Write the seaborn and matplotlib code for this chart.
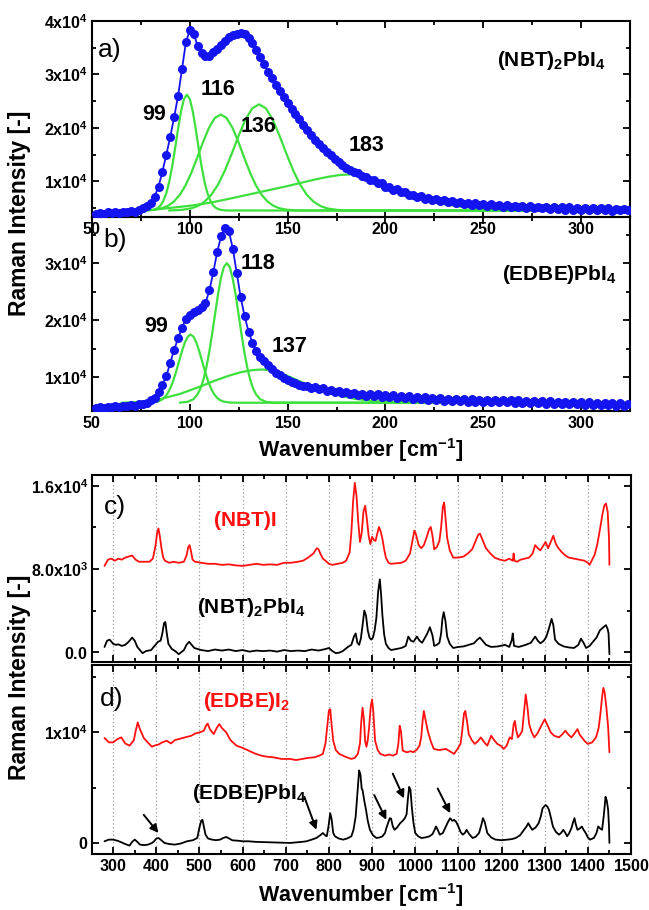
import numpy as np
import pandas as pd
import matplotlib
matplotlib.use("Agg")
import matplotlib.pyplot as plt
import seaborn as sns
from matplotlib.ticker import MultipleLocator

sns.set_style("ticks")
plt.rcParams["font.family"] = ["Liberation Sans", "DejaVu Sans"]
plt.rcParams["font.weight"] = "bold"
plt.rcParams["text.color"] = "black"
plt.rcParams["axes.labelcolor"] = "black"
plt.rcParams["xtick.color"] = "black"
plt.rcParams["ytick.color"] = "black"
plt.rcParams["mathtext.fontset"] = "custom"
plt.rcParams["mathtext.rm"] = "Liberation Sans:bold"
plt.rcParams["mathtext.bf"] = "Liberation Sans:bold"
plt.rcParams["mathtext.it"] = "Liberation Sans:bold"

# ---------------- data: panel a, (NBT)2PbI4 low-frequency Raman ----------------
a_x_start, a_x_step = 52, 2
a_counts = [3800, 4100, 3900, 4200, 4000, 4200, 4100, 4300, 4200, 4400, 4300, 4600, 4900, 5300, 6000,
            7100, 9000, 11800, 15000, 18300, 22000, 26000, 31000, 36000, 38300, 37600, 35300, 34000,
            33400, 33500, 34200, 34800, 35500, 36300, 37000, 37300, 37600, 37800, 37500, 36800, 35800,
            34600, 33300, 31900, 30500, 29300, 28000, 26800, 25700, 24600, 23600, 22600, 21600, 20600,
            19600, 18700, 17800, 17000, 16200, 15500, 14900, 14200, 13600, 13000, 12500, 12100, 11700,
            11500, 10900, 10800, 10200, 10200, 9600, 9600, 9000, 9000, 8400, 8500, 7900, 8000, 7400,
            7500, 7000, 7200, 6700, 6900, 6500, 6700, 6300, 6500, 6100, 6300, 5900, 6100, 5800, 6000,
            5600, 5900, 5500, 5800, 5400, 5700, 5300, 5600, 5200, 5500, 5100, 5400, 5100, 5300, 5000,
            5300, 4900, 5200, 4900, 5200, 4800, 5100, 4800, 5100, 4700, 5100, 4700, 5000, 4700, 5000,
            4600, 4900, 4600, 4900, 4600, 4900, 4500, 4800, 4600, 4800, 4600]
a_fit99_x = [78.5, 81.5, 83.5, 85, 86.5, 88, 89.5, 91, 92.5, 94, 95.5, 97, 98.5, 100, 101.5, 103, 104.5, 106,
             107.5, 109, 110.5, 112, 113.5, 115.5, 118.5, 325]
a_fit99_y = [4520, 4650, 4960, 5450, 6340, 7780, 9910, 12770, 16200, 19840, 23100, 25380, 26200, 25380, 23100,
             19840, 16200, 12770, 9910, 7780, 6340, 5450, 4960, 4650, 4520, 4500]
a_fit116_x = [75.8, 81.8, 85.8, 88.8, 91.8, 94.8, 97.8, 100.8, 103.8, 106.8, 109.8, 112.8, 115.8, 118.8, 121.8,
              124.8, 127.8, 130.8, 133.8, 136.8, 139.8, 142.8, 145.8, 149.8, 155.8, 325]
a_fit116_y = [4520, 4650, 4940, 5390, 6170, 7410, 9220, 11600, 14430, 17380, 20010, 21840, 22500, 21840, 20010,
              17380, 14430, 11600, 9220, 7410, 6170, 5390, 4940, 4650, 4520, 4500]
a_fit136_x = [89.4, 95.4, 100.4, 103.9, 107.4, 110.9, 114.4, 117.9, 121.4, 124.9, 128.4, 131.9, 135.4, 138.9,
              142.4, 145.9, 149.4, 152.9, 156.4, 159.9, 163.4, 166.9, 170.4, 175.4, 181.4, 325]
a_fit136_y = [4520, 4620, 4890, 5330, 6120, 7420, 9350, 11970, 15130, 18480, 21510, 23640, 24400, 23640, 21510,
              18480, 15130, 11970, 9350, 7420, 6120, 5330, 4890, 4620, 4520, 4500]
a_fit183_x = [82, 90, 100, 110, 120, 130, 140, 150, 158, 165, 171, 177, 183, 189, 195, 201, 207, 214, 222, 230,
              240, 250, 262, 280, 325]
a_fit183_y = [4700, 5000, 5400, 5950, 6700, 7500, 8300, 9100, 9800, 10400, 10850, 11180, 11300, 11000, 10100,
              9000, 8000, 7100, 6300, 5700, 5150, 4800, 4620, 4530, 4500]

# ---------------- data: panel b, (EDBE)PbI4 low-frequency Raman ----------------
b_x_start, b_x_step = 52, 2
b_counts = [4500, 4800, 4600, 4800, 4700, 4900, 4800, 5000, 4900, 5100, 5000, 5200, 5300, 5500, 5900,
            6400, 7300, 8700, 10200, 12500, 14800, 16800, 18700, 20200, 20900, 21400, 21800, 22300,
            23000, 25200, 28400, 32000, 34700, 36200, 35600, 32500, 28200, 24000, 20700, 18000, 16000,
            14600, 13500, 12800, 12100, 11400, 10800, 10300, 9800, 9500, 9200, 9000, 8700, 8500,
            8500, 8100, 8300, 7900, 8000, 7600, 7800, 7400, 7600, 7200,
            7400, 7000, 7200, 6800, 7100, 6700, 7000, 6600, 6950, 6550,
            6900, 6500, 6850, 6400, 6750, 6300, 6650, 6200, 6550, 6100,
            6450, 6000, 6350, 5900, 6300, 5850, 6200, 5800, 6150, 5750,
            6100, 5700, 6100, 5650, 6050, 5650, 6000, 5600, 6000, 5600,
            5950, 5550, 5900, 5500, 5900, 5450, 5850, 5400, 5800, 5400,
            5750, 5350, 5750, 5300, 5700, 5300, 5650, 5250, 5600, 5200,
            5600, 5150, 5550, 5100, 5500, 5100, 5450, 5050, 5400, 5000,
            5400, 5000, 5350]
b_fit99_x = [76.4, 80.4, 83.4, 85.4, 86.9, 88.4, 89.9, 91.4, 92.9, 94.4, 95.9, 97.4, 98.9, 100.4, 101.9, 103.4,
             104.9, 106.4, 107.9, 109.4, 110.9, 112.4, 113.9, 115.4, 117.4, 120.4, 124.4, 325]
b_fit99_y = [5500, 5540, 5690, 5970, 6370, 7010, 7960, 9240, 10840, 12640, 14450, 16020, 17090, 17470, 17090,
             16020, 14450, 12640, 10840, 9240, 7960, 7010, 6370, 5970, 5690, 5540, 5500, 5500]
b_fit118_x = [94.9, 98.9, 101.9, 103.9, 105.4, 106.9, 108.4, 109.9, 111.4, 112.9, 114.4, 115.9, 117.4, 118.9,
              120.4, 121.9, 123.4, 124.9, 126.4, 127.9, 129.4, 130.9, 132.4, 133.9, 135.9, 138.9, 142.9, 325]
b_fit118_y = [5520, 5660, 6140, 6940, 7970, 9490, 11610, 14330, 17560, 21070, 24480, 27370, 29320, 30000, 29320,
              27370, 24480, 21070, 17560, 14330, 11610, 9490, 7970, 6940, 6140, 5660, 5520, 5500]
b_fit137_x = [65, 75, 85, 95, 105, 113, 120, 126, 132, 137, 142, 148, 154, 160, 167, 175, 184, 195, 210, 230, 325]
b_fit137_y = [5500, 5650, 6150, 7050, 8300, 9400, 10250, 10850, 11230, 11340, 11150, 10500, 9600, 8700, 7750,
              6900, 6200, 5750, 5550, 5500, 5500]

# ---------------- data: panel c ----------------
c_nbti_x = [280, 288, 296, 304, 312, 320, 328, 336, 344, 352, 360, 372, 384, 392, 398, 402, 405, 408, 412, 416, 420,
            430, 440, 452, 464, 470, 474, 477, 480, 484, 490, 504, 520, 536, 552, 568, 584, 600, 616, 632, 648,
            664, 680, 696, 712, 728, 740, 752, 764, 772, 776, 780, 786, 792, 800, 808, 820, 832, 840, 848, 852,
            856, 860, 864, 868, 872, 876, 880, 884, 888, 892, 896, 900, 904, 908, 912, 916, 920, 924, 928, 932,
            938, 944, 956, 968, 978, 988, 994, 998, 1002, 1008, 1014, 1020, 1026, 1032, 1036, 1040, 1044, 1050,
            1056, 1060, 1064, 1067, 1070, 1074, 1080, 1088, 1100, 1112, 1122, 1132, 1140, 1146, 1150, 1156,
            1164, 1174, 1184, 1196, 1208, 1218, 1226, 1228, 1230, 1236, 1244, 1254, 1264, 1272, 1278, 1284,
            1290, 1296, 1302, 1308, 1314, 1320, 1326, 1332, 1340, 1348, 1356, 1368, 1380, 1392, 1400, 1404,
            1410, 1416, 1422, 1428, 1434, 1438, 1442, 1446, 1449, 1450]
c_nbti_y = [8300, 8900, 9000, 8800, 9000, 8900, 9100, 9200, 9300, 8900, 8700, 8700, 8700, 9000, 10200, 11500, 11900,
            11200, 10000, 9100, 8800, 8600, 8700, 8600, 8700, 9300, 10100, 10300, 9800, 8900, 8700, 8600, 8500,
            8500, 8400, 8450, 8350, 8300, 8400, 8500, 8400, 8450, 8400, 8600, 8600, 8700, 8800, 9100, 9500,
            10000, 9900, 9500, 9000, 8800, 8500, 8400, 8500, 8600, 8800, 9600, 11500, 14500, 16300, 15000,
            12500, 10600, 11500, 13500, 14100, 12800, 11200, 10400, 11100, 10800, 10700, 11400, 12050, 11600,
            10900, 9900, 9100, 8600, 8500, 8550, 8600, 8800, 9500, 10800, 11700, 11300, 10300, 10000, 10300,
            11000, 11800, 12050, 11200, 9900, 10100, 10700, 12000, 14000, 14400, 13000, 11000, 9800, 9100,
            9100, 9200, 9500, 9900, 10700, 11300, 11400, 10800, 10000, 9500, 9100, 8900, 8800, 9000, 8800,
            9500, 8800, 8700, 8900, 9000, 9100, 9500, 10300, 10000, 9800, 10200, 10600, 10000, 10600, 11200,
            10400, 10000, 9600, 9300, 9100, 9000, 8900, 8800, 8600, 8400, 8900, 9400, 10400, 11800, 13300,
            14100, 14300, 13500, 11000, 8400]
c_pbi_x = [280, 286, 292, 300, 306, 312, 320, 328, 336, 344, 350, 356, 362, 368, 376, 388, 396, 404, 410, 414, 418,
           421, 424, 428, 436, 444, 452, 458, 464, 470, 476, 480, 488, 496, 504, 520, 536, 552, 568, 584, 600,
           616, 632, 648, 664, 680, 696, 712, 728, 744, 760, 776, 792, 800, 808, 816, 824, 832, 844, 852, 858,
           862, 866, 870, 874, 878, 882, 886, 890, 894, 898, 902, 906, 910, 914, 918, 921, 924, 928, 932, 938,
           944, 956, 968, 978, 984, 990, 996, 1004, 1010, 1016, 1024, 1028, 1034, 1040, 1044, 1050, 1056, 1060,
           1063, 1066, 1070, 1074, 1080, 1088, 1100, 1112, 1124, 1136, 1144, 1150, 1156, 1164, 1176, 1192,
           1208, 1218, 1224, 1226, 1229, 1240, 1256, 1268, 1278, 1284, 1290, 1298, 1304, 1310, 1316, 1320,
           1324, 1332, 1344, 1356, 1368, 1378, 1384, 1390, 1396, 1404, 1412, 1420, 1428, 1436, 1442, 1446,
           1448, 1450]
c_pbi_y = [500, 1100, 1200, 800, 700, 750, 600, 700, 1000, 1400, 1100, 500, 200, -100, 100, 200, 600, 1000, 1100,
           1800, 2800, 2900, 1900, 800, 300, 100, -200, 0, 200, 700, 1000, 800, 400, 300, 200, 100, 250, 150,
           250, 100, 200, 50, 150, 100, 150, 50, 200, 100, 150, 100, 250, 150, 300, 400, 100, -100, -50, 100,
           500, 700, 1500, 1800, 900, 700, 1300, 2600, 4000, 3500, 2100, 1400, 1200, 1400, 2100, 3300, 5800,
           7000, 5500, 3500, 1700, 800, 400, 200, 300, 400, 600, 1500, 1100, 1000, 1500, 1100, 900, 1500, 1800,
           2400, 1600, 600, 700, 900, 1800, 3200, 3850, 3000, 1500, 800, 400, 500, 550, 700, 850, 1200, 1400,
           1100, 700, 500, 550, 700, 500, 1200, 1800, 600, 500, 700, 900, 1500, 1100, 850, 1100, 1500, 2300,
           3200, 2600, 1200, 800, 550, 450, 400, 700, 1300, 900, 400, 600, 1000, 1400, 2100, 2400, 2600, 2200,
           1800, -200]

# ---------------- data: panel d ----------------
d_edbei_x = [280, 290, 300, 310, 319, 328, 338, 348, 352, 357, 362, 371, 380, 390, 395, 405, 414, 424, 434, 443, 452,
             462, 471, 481, 490, 500, 510, 515, 519, 524, 533, 540, 546, 552, 562, 572, 586, 600, 614, 628, 643,
             657, 671, 690, 710, 724, 738, 752, 767, 778, 786, 792, 796, 800, 803, 806, 810, 816, 824, 838, 852,
             860, 867, 872, 875, 878, 881, 884, 887, 890, 893, 897, 900, 903, 907, 913, 919, 930, 940, 948, 957,
             961, 964, 967, 971, 980, 990, 995, 1003, 1010, 1014, 1017, 1020, 1023, 1029, 1036, 1043, 1055, 1071,
             1080, 1090, 1098, 1105, 1109, 1113, 1116, 1120, 1124, 1131, 1138, 1145, 1152, 1160, 1167, 1172,
             1176, 1183, 1190, 1198, 1205, 1212, 1219, 1224, 1228, 1231, 1234, 1238, 1243, 1248, 1252, 1256,
             1260, 1264, 1270, 1276, 1283, 1290, 1296, 1300, 1306, 1314, 1322, 1333, 1340, 1348, 1355, 1362,
             1369, 1376, 1381, 1386, 1393, 1400, 1410, 1419, 1425, 1429, 1433, 1436, 1439, 1443, 1447, 1450]
d_edbei_y = [9500, 9100, 9100, 9400, 9550, 9000, 8800, 9300, 10100, 10900, 10300, 9500, 9100, 8700, 8800, 8900,
             9100, 9250, 9000, 9300, 9400, 9500, 9600, 9700, 9900, 10000, 10150, 10600, 10800, 10300, 9850,
             10400, 10750, 10400, 10000, 9300, 8800, 8600, 8350, 8100, 7900, 7800, 7750, 7600, 7600, 7500, 7600,
             7700, 7750, 7900, 8060, 9000, 10500, 12000, 12100, 10800, 9250, 8400, 8060, 7800, 7600, 7700, 8060,
             9000, 11000, 12240, 11200, 9200, 8700, 9300, 10400, 12400, 12980, 11800, 9250, 8400, 8060, 7900,
             8000, 7900, 8060, 9000, 10600, 10100, 8360, 8200, 8300, 8210, 8400, 8800, 9600, 11000, 11940,
             11300, 10150, 9200, 8510, 8400, 8510, 8300, 8060, 8500, 8960, 10200, 11700, 11940, 11000, 9850,
             9300, 8960, 9200, 9550, 9100, 8800, 9300, 9700, 9300, 8960, 8800, 8510, 8800, 9550, 9400, 10700,
             11040, 10200, 9550, 9800, 10150, 11800, 13430, 12300, 10750, 10000, 9550, 9900, 10450, 10900,
             11190, 10700, 10000, 9700, 9550, 9800, 10150, 9800, 9550, 9900, 10300, 9800, 9550, 9200, 8960,
             9100, 9550, 10400, 11640, 13200, 14030, 13600, 12240, 10500, 8210]
d_pbi_x = [280, 290, 300, 310, 319, 328, 338, 344, 350, 356, 362, 372, 381, 390, 395, 400, 405, 410, 419, 430, 443,
           457, 471, 485, 495, 500, 504, 507, 510, 514, 520, 529, 538, 548, 555, 562, 569, 576, 590, 600, 614,
           630, 646, 662, 680, 695, 710, 725, 738, 748, 760, 771, 780, 786, 791, 795, 799, 803, 806, 810, 814,
           823, 833, 842, 852, 857, 862, 866, 870, 873, 876, 878, 882, 886, 890, 895, 902, 910, 918, 924, 930,
           933, 937, 941, 944, 948, 952, 958, 965, 971, 976, 980, 983, 986, 989, 992, 996, 1000, 1007, 1014,
           1024, 1033, 1040, 1045, 1048, 1052, 1057, 1064, 1071, 1076, 1081, 1086, 1090, 1095, 1100, 1105,
           1110, 1115, 1119, 1125, 1133, 1140, 1148, 1153, 1157, 1161, 1167, 1176, 1186, 1200, 1214, 1224,
           1233, 1243, 1252, 1258, 1262, 1266, 1271, 1279, 1286, 1291, 1295, 1302, 1306, 1310, 1315, 1319,
           1326, 1333, 1338, 1343, 1348, 1352, 1357, 1362, 1366, 1369, 1372, 1376, 1381, 1386, 1390, 1395,
           1400, 1405, 1414, 1420, 1424, 1429, 1433, 1437, 1441, 1444, 1447, 1449, 1450]
d_pbi_y = [150, 300, 300, 200, 60, -100, -240, 100, 300, 100, -150, -200, -150, 0, 150, 400, 450, 300, 0, -100,
           -150, -50, 150, 250, 450, 1400, 2000, 2090, 1500, 750, 400, 300, 250, 300, 450, 540, 400, 240, 200,
           150, 150, 100, 80, 60, 40, 20, 0, 50, 100, 150, 300, 450, 700, 900, 700, 600, 1500, 2690, 2200, 900,
           600, 400, 300, 400, 600, 1200, 2390, 4500, 6570, 6200, 4900, 4780, 3800, 2990, 2000, 1190, 700, 450,
           500, 600, 900, 1340, 1800, 2240, 2200, 1500, 1190, 1400, 1790, 2000, 2240, 2600, 4000, 5070, 4800,
           3280, 1800, 900, 600, 450, 500, 600, 800, 1200, 1490, 1200, 750, 900, 1490, 1900, 2240, 2000, 2090,
           1900, 1490, 1000, 750, 900, 1190, 800, 450, 550, 900, 1600, 2240, 1900, 900, 500, 300, 250, 300,
           350, 450, 700, 1190, 1500, 1790, 1500, 1190, 1400, 1790, 2400, 3130, 3430, 3300, 2990, 2200, 1490,
           1000, 750, 900, 1190, 900, 600, 900, 1340, 1900, 2240, 1700, 1190, 1300, 1490, 1200, 900, 500, 300,
           450, 900, 1490, 1300, 1190, 2500, 4180, 3800, 2990, 1500, 0]

# arrows in panel d: (tail x, tail y, head x, head y)
d_arrows = [(371, 2540, 405, 900), (743, 4180, 771, 1190), (905, 4330, 933, 2090),
            (948, 6270, 974, 4030), (1052, 4930, 1081, 2690)]

# tick labels
a_yticks = [10000, 20000, 30000, 40000]
a_ylabels = [r"$\mathbf{1x10^{4}}$", r"$\mathbf{2x10^{4}}$", r"$\mathbf{3x10^{4}}$", r"$\mathbf{4x10^{4}}$"]
b_yticks = [10000, 20000, 30000]
b_ylabels = [r"$\mathbf{1x10^{4}}$", r"$\mathbf{2x10^{4}}$", r"$\mathbf{3x10^{4}}$"]
c_yticks = [0, 8000, 16000]
c_ylabels = [r"$\mathbf{0.0}$", r"$\mathbf{8.0x10^{3}}$", r"$\mathbf{1.6x10^{4}}$"]
d_yticks = [0, 10000]
d_ylabels = [r"$\mathbf{0}$", r"$\mathbf{1x10^{4}}$"]
low_xticks = [50, 100, 150, 200, 250, 300]
high_xticks = [300, 400, 500, 600, 700, 800, 900, 1000, 1100, 1200, 1300, 1400, 1500]

BLUE = "#1414f0"
GREEN = "#3de03d"
RED = "#ff1010"
TICK_FS = 11.5
LABEL_FS = 15.5
NAME_FS = 15
PEAK_FS = 15.5
LETTER_FS = 19

# ---------------- figure ----------------
fig = plt.figure(figsize=(6.49, 9.10), dpi=100)


def pos(l, t, r, b):
    return [l / 649, 1 - b / 910, (r - l) / 649, (b - t) / 910]


ax_b = fig.add_axes(pos(92, 217, 630, 411))
ax_a = fig.add_axes(pos(92, 21, 630, 217))
ax_c = fig.add_axes(pos(92, 475, 631, 662))
ax_d = fig.add_axes(pos(92, 665, 631, 854))


def style(ax):
    for s in ax.spines.values():
        s.set_linewidth(1.5)
        s.set_color("black")
        s.set_visible(True)
    ax.tick_params(which="both", direction="in", top=True, right=True, width=1.3,
                   colors="black", labelsize=TICK_FS, pad=3)
    ax.tick_params(which="major", length=5)
    ax.tick_params(which="minor", length=3)
    ax.set_xlabel("")
    ax.set_ylabel("")


def spectrum_low(ax, start, step, counts, fits):
    df = pd.DataFrame({"w": [start + step * i for i in range(len(counts))], "I": counts})
    for fx, fy in fits:
        sns.lineplot(data=pd.DataFrame({"w": fx, "I": fy}), x="w", y="I", ax=ax, color=GREEN,
                     linewidth=1.6, estimator=None, zorder=2)
    sns.lineplot(data=df, x="w", y="I", ax=ax, color=BLUE, linewidth=1.3, marker="o",
                 markersize=6.5, markeredgewidth=0, estimator=None, zorder=3)
    ax.set_xlim(50, 325)
    ax.set_xticks(low_xticks)
    ax.set_xticklabels([r"$\mathbf{%d}$" % v for v in low_xticks])
    ax.xaxis.set_minor_locator(MultipleLocator(25))
    ax.yaxis.set_minor_locator(MultipleLocator(5000))
    style(ax)


spectrum_low(ax_a, a_x_start, a_x_step, a_counts,
             [(a_fit99_x, a_fit99_y), (a_fit116_x, a_fit116_y), (a_fit136_x, a_fit136_y), (a_fit183_x, a_fit183_y)])
ax_a.set_ylim(3300, 40000)
ax_a.set_yticks(a_yticks)
ax_a.set_yticklabels(a_ylabels)

spectrum_low(ax_b, b_x_start, b_x_step, b_counts,
             [(b_fit99_x, b_fit99_y), (b_fit118_x, b_fit118_y), (b_fit137_x, b_fit137_y)])
ax_b.set_ylim(4050, 38100)
ax_b.set_yticks(b_yticks)
ax_b.set_yticklabels(b_ylabels)

ax_a.patch.set_alpha(0)
ax_a.set_zorder(3)

# panel a annotations
ax_a.text(53, 34500, "a)", fontsize=LETTER_FS, fontweight="normal", ha="left", va="center")
ax_a.text(284.5, 32600, r"(NBT)$_{\mathbf{2}}$PbI$_{\mathbf{4}}$", fontsize=NAME_FS, ha="center", va="center")
for lbl, x, y in [("99", 82, 22400), ("116", 114.5, 27200), ("136", 135, 20200), ("183", 190.5, 16700)]:
    ax_a.text(x, y, lbl, fontsize=PEAK_FS, ha="center", va="center")

ax_b.text(56, 34100, "b)", fontsize=LETTER_FS, fontweight="normal", ha="left", va="center")
ax_b.text(289, 28000, r"(EDBE)PbI$_{\mathbf{4}}$", fontsize=NAME_FS, ha="center", va="center")
for lbl, x, y in [("99", 83, 18900), ("118", 135, 30000), ("137", 151, 15400)]:
    ax_b.text(x, y, lbl, fontsize=PEAK_FS, ha="center", va="center")


def spectrum_high(ax, series):
    for x, y, col in series:
        sns.lineplot(data=pd.DataFrame({"w": x, "I": y}), x="w", y="I", ax=ax, color=col,
                     linewidth=1.3, estimator=None, zorder=3)
    ax.set_xlim(251, 1500)
    ax.set_xticks(high_xticks)
    ax.set_xticklabels([r"$\mathbf{%d}$" % v for v in high_xticks])
    ax.xaxis.set_minor_locator(MultipleLocator(50))
    ax.xaxis.grid(True, which="major", linestyle=(0, (1, 2)), color="#9a9a9a", linewidth=0.9, zorder=0)
    ax.yaxis.grid(False)
    ax.set_axisbelow(True)
    style(ax)


spectrum_high(ax_c, [(c_nbti_x, c_nbti_y, RED), (c_pbi_x, c_pbi_y, "black")])
ax_c.set_ylim(-950, 17050)
ax_c.set_yticks(c_yticks)
ax_c.set_yticklabels(c_ylabels)
ax_c.yaxis.set_minor_locator(MultipleLocator(4000))
ax_c.tick_params(labelbottom=False)
ax_c.text(279, 13950, "c)", fontsize=LETTER_FS, fontweight="normal", ha="left", va="center")
ax_c.text(606, 12690, "(NBT)I", color=RED, fontsize=NAME_FS, ha="center", va="center")
ax_c.text(620, 4320, r"(NBT)$_{\mathbf{2}}$PbI$_{\mathbf{4}}$", fontsize=NAME_FS, ha="center", va="center")

spectrum_high(ax_d, [(d_edbei_x, d_edbei_y, RED), (d_pbi_x, d_pbi_y, "black")])
ax_d.set_ylim(-1000, 16100)
ax_d.set_yticks(d_yticks)
ax_d.set_yticklabels(d_ylabels)
ax_d.yaxis.set_minor_locator(MultipleLocator(5000))
ax_d.text(270, 13000, "d)", fontsize=LETTER_FS, fontweight="normal", ha="left", va="center")
ax_d.text(609, 12800, r"(EDBE)I$_{\mathbf{2}}$", color=RED, fontsize=NAME_FS, ha="center", va="center")
ax_d.text(616, 4480, r"(EDBE)PbI$_{\mathbf{4}}$", fontsize=NAME_FS, ha="center", va="center")
for tx, ty, hx, hy in d_arrows:
    ax_d.annotate("", xy=(hx, hy), xytext=(tx, ty),
                  arrowprops=dict(arrowstyle="-|>", color="black", lw=1.4, mutation_scale=12,
                                  shrinkA=0, shrinkB=0))

# axis titles
for yc in (213, 677):
    fig.text(20 / 649, 1 - yc / 910, "Raman Intensity [-]", rotation=90, fontsize=LABEL_FS + 1,
             ha="center", va="center")
for yc in (450, 895):
    fig.text(361 / 649, 1 - yc / 910, r"Wavenumber [cm$^{\mathbf{-1}}$]", fontsize=LABEL_FS,
             ha="center", va="center")

fig.savefig("out.png", dpi=100)
